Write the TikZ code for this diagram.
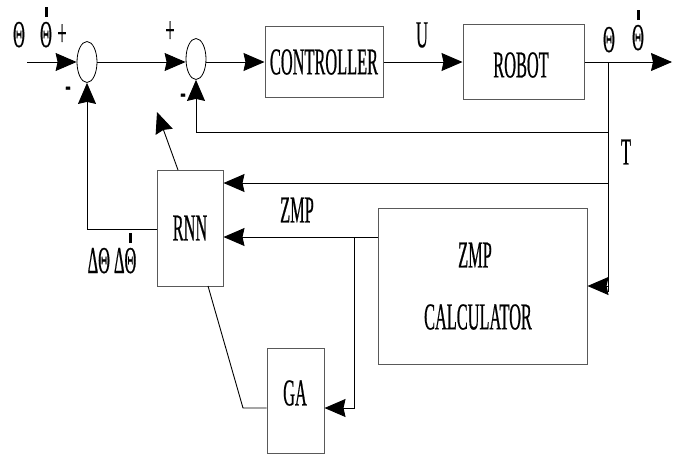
\documentclass[tikz,border=0pt]{standalone}
\usepackage{fontspec}
\setmainfont{Liberation Serif}[FakeStretch=0.43,FakeBold=0.5]
\usetikzlibrary{arrows.meta,shapes.geometric}

% Theta with a tick mark above it (time derivative)
\newcommand\thtick{\ooalign{Θ\cr\hidewidth\raisebox{30pt}{\rule{3pt}{10pt}}\hidewidth\cr}}

\begin{document}
\begin{tikzpicture}[x=1pt,y=-1pt,
  lbl/.style={font=\fontsize{38}{38}\selectfont, inner sep=0pt},
  blk/.style={draw=black!65, line width=1pt, inner sep=0pt, font=\fontsize{38}{38}\selectfont},
  sumpt/.style={draw=black, line width=0.8pt, ellipse, inner sep=0pt, minimum width=20pt, minimum height=41pt},
  wire/.style={line width=0.9pt, black},
  arr/.style={wire, -{Stealth[length=21pt,width=18pt,inset=2pt]}}]
\useasboundingbox (0,0) rectangle (679,456);

% summing junctions
\node[sumpt] (s1) at (87,62) {};
\node[sumpt] (s2) at (196,59) {};

% blocks
\node[blk, minimum width=118pt, minimum height=71pt] (ctrl) at (324,62) {CONTROLLER};
\node[blk, minimum width=121pt, minimum height=75pt] (robot) at (523.5,62) {};
\node[lbl] (rtxt) at (521,65) {ROBOT};
\node[blk, minimum width=66pt, minimum height=116pt] (rnn) at (190,228) {RNN};
\node[blk, minimum width=209pt, minimum height=156pt] (zmpc) at (482.5,286) {};
\node[lbl] (zmpa) at (475,255) {ZMP};
\node[lbl] (zmpb) at (478,317) {CALCULATOR};
\node[blk, minimum width=57pt, minimum height=105pt] (ga) at (295.5,400.5) {};
\node[lbl] (gtxt) at (295,393) {GA};

% free ends and junction points
\coordinate (in) at (27,62);
\coordinate (out) at (672,62);
\coordinate (tp) at (608,62);
\coordinate (tb) at (608,292);
\coordinate (fb) at (608,132);
\coordinate (fr) at (608,183);
\coordinate (zj) at (354,237);
\coordinate (gj) at (354,408);
\coordinate (gk) at (243,408);
\coordinate (rb) at (208,286);
\coordinate (rt) at (178,170);
\coordinate (rtip) at (157,112);
\coordinate (rl) at (157,229);

% forward path
\draw[arr] (in) -- (s1.west);
\draw[arr] (s1.east) -- (s2.west |- s1.east);
\draw[arr] (s2.east |- ctrl.west) -- (ctrl.west);
\draw[arr] (ctrl.east) -- (robot.west);
\draw[arr] (robot.east) -- (out);

% feedback and measurement paths
\draw[wire] (tp) -- (tb);
\draw[arr] (tp |- zmpc.east) -- (zmpc.east);
\draw[arr] (fb) -| (s2.south);
\draw[arr] (fr) -- (rnn.east |- fr);
\draw[arr] (zmpc.west |- zj) -- (rnn.east |- zj);
\draw[arr] (zj) -- (gj) -- (ga.east |- gj);
\draw[wire] (rb) -- (gk) -- (ga.west |- gk);
\draw[arr] (rl) -| (s1.south);
\draw[arr] (rt) -- (rtip);

% labels
\node[lbl, anchor=base] (l1) at (19,47) {Θ};
\node[lbl, anchor=base] (l2) at (46,47) {\thtick};
\node[lbl] (p1) at (62,35) {+};
\node[lbl] (m1) at (68,92) {-};
\node[lbl] (p2) at (170,32) {+};
\node[lbl] (m2) at (183,99) {-};
\node[lbl] (lu) at (422,35) {U};
\node[lbl, anchor=base] (o1) at (609,52) {Θ};
\node[lbl, anchor=base] (o2) at (638,50) {\thtick};
\node[lbl] (lt) at (626,152) {T};
\node[lbl] (lz) at (297,210) {ZMP};
\node[lbl, anchor=base] (ld) at (112,273) {ΔΘ Δ\thtick};
\end{tikzpicture}
\end{document}
